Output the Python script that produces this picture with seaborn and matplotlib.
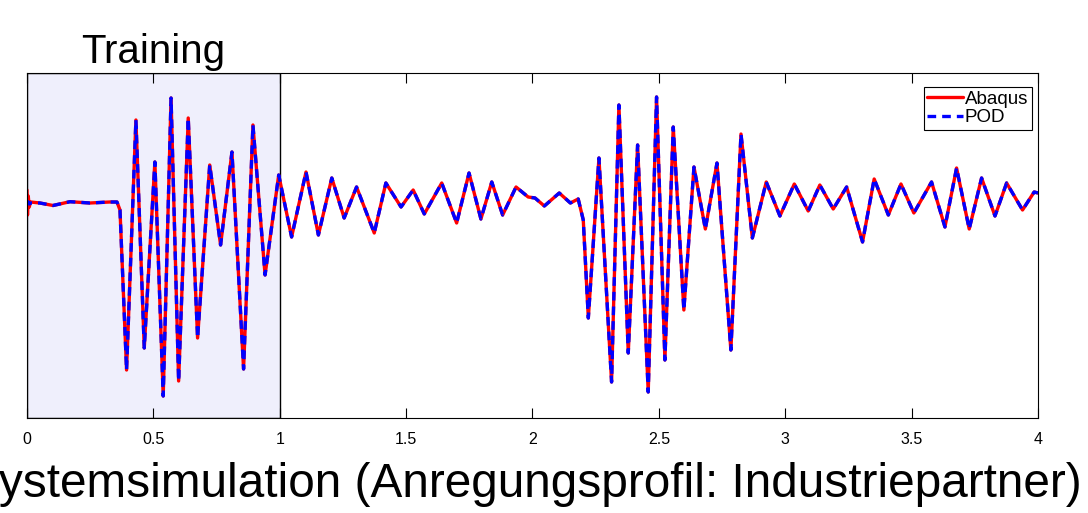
import numpy as np
import pandas as pd
import matplotlib
matplotlib.use('Agg')
import matplotlib.pyplot as plt
import seaborn as sns

# extrema (time in s, displacement in arbitrary units)
t = [0.0, 0.002, 0.005, 0.009, 0.014, 0.051, 0.103, 0.170, 0.249, 0.328, 0.356, 0.368,
     0.394, 0.431, 0.464, 0.506, 0.539, 0.570, 0.600, 0.638, 0.675, 0.723, 0.766, 0.811,
     0.857, 0.894, 0.942, 0.996, 1.047, 1.104, 1.153, 1.206, 1.255, 1.304, 1.374, 1.420,
     1.480, 1.528, 1.572, 1.641, 1.700, 1.749, 1.796, 1.839, 1.882, 1.935, 1.983, 2.010,
     2.047, 2.106, 2.150, 2.181, 2.201, 2.221, 2.263, 2.313, 2.342, 2.379, 2.416, 2.458,
     2.491, 2.524, 2.557, 2.599, 2.639, 2.684, 2.730, 2.785, 2.825, 2.870, 2.925, 2.979,
     3.036, 3.091, 3.137, 3.190, 3.243, 3.306, 3.352, 3.408, 3.458, 3.509, 3.579, 3.632,
     3.678, 3.728, 3.777, 3.830, 3.876, 3.939, 3.985, 4.0]

abaqus = [0.13, -0.12, 0.07, -0.04, 0.01, 0.0, -0.025, 0.013, 0.0, 0.01, 0.01, -0.07,
          -1.67, 0.83, -1.45, 0.41, -1.93, 1.05, -1.78, 0.85, -1.35, 0.38, -0.42, 0.51,
          -1.66, 0.78, -0.72, 0.28, -0.34, 0.31, -0.32, 0.25, -0.15, 0.16, -0.30, 0.20,
          -0.04, 0.13, -0.11, 0.20, -0.20, 0.30, -0.16, 0.21, -0.12, 0.16, 0.06, 0.05,
          -0.03, 0.10, 0.0, 0.04, -0.17, -1.15, 0.45, -1.79, 0.98, -1.50, 0.58, -1.89,
          1.06, -1.57, 0.76, -1.07, 0.36, -0.26, 0.40, -1.47, 0.69, -0.35, 0.21, -0.13,
          0.19, -0.08, 0.18, -0.06, 0.16, -0.39, 0.24, -0.12, 0.19, -0.10, 0.21, -0.24,
          0.35, -0.26, 0.25, -0.13, 0.20, -0.07, 0.11, 0.10]

pod = [0.02, 0.0, 0.01, -0.01, 0.0] + abaqus[5:]

xticks = [0, 0.5, 1, 1.5, 2, 2.5, 3, 3.5, 4]
xtick_labels = ['0', '0.5', '1', '1.5', '2', '2.5', '3', '3.5', '4']

df = pd.DataFrame({'t': t, 'Abaqus': abaqus, 'POD': pod})

sns.set_theme(style='white')
plt.rcParams['font.family'] = ['Liberation Sans', 'DejaVu Sans']
plt.rcParams['text.color'] = 'black'
plt.rcParams['xtick.color'] = 'black'

fig = plt.figure(figsize=(10.88, 5.13), dpi=100)
ax = fig.add_axes([0.0248, 0.1852, 0.9292, 0.6725])

# training window
ax.axvspan(0, 1, facecolor='#efeffc', edgecolor='black', lw=1.0, zorder=0)

sns.lineplot(data=df, x='t', y='Abaqus', color='#ff0000', lw=2.4, label='Abaqus',
             estimator=None, sort=False, ax=ax)
sns.lineplot(data=df, x='t', y='POD', color='#0000ff', lw=2.4, label='POD',
             linestyle=(0, (2.6, 1.8)), estimator=None, sort=False, ax=ax)

ax.set_xlim(0, 4)
ax.set_ylim(-2.15, 1.30)
ax.set_xticks(xticks)
ax.set_xticklabels(xtick_labels)
ax.set_yticks([])
ax.set_xlabel('')
ax.set_ylabel('')
ax.tick_params(axis='x', direction='in', top=True, bottom=True, length=7, width=0.8,
               labelsize=11.5, pad=10, colors='black')
for s in ax.spines.values():
    s.set_color('black')
    s.set_linewidth(0.8)

leg = ax.legend(loc='upper right', bbox_to_anchor=(0.994, 0.959), borderaxespad=0,
                fontsize=13.5, handlelength=1.9, handletextpad=0.1, borderpad=0.2,
                labelspacing=0.05, fancybox=False, framealpha=1, edgecolor='black')
leg.get_frame().set_linewidth(0.8)

fig.text(153 / 1088, 1 - 63 / 513, 'Training', ha='center', va='baseline', fontsize=29)
fig.text(1082 / 1088, 1 - 497 / 513, 'Systemsimulation (Anregungsprofil: Industriepartner)',
         ha='right', va='baseline', fontsize=34.4)

fig.savefig('out.png', dpi=100)
